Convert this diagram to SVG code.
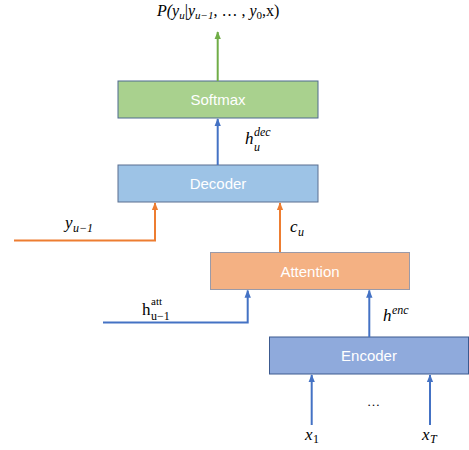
<svg xmlns="http://www.w3.org/2000/svg" width="469" height="450" viewBox="0 0 469 450">
<style>
.lbl{font-family:"Liberation Sans",Arial,sans-serif;font-size:15px;fill:#ffffff;text-anchor:middle}
.m{font-family:"Liberation Serif","Times New Roman",serif;font-size:17px;fill:#000000;font-style:italic}
.u{font-style:normal}
.s{font-size:12px}
.t{font-size:16px}
.ts{font-size:11px}
.xs{font-size:11px}
.d{font-size:13px}
.blue{stroke:#4472C4;stroke-width:2;fill:none}
.orange{stroke:#ED7D31;stroke-width:2;fill:none}
.green{stroke:#70AD47;stroke-width:2;fill:none}
</style>
<defs>
<marker id="ab" viewBox="0 0 10 10" refX="9" refY="5" markerWidth="4" markerHeight="4" orient="auto" markerUnits="strokeWidth"><path d="M0,1 L10,5 L0,9 z" fill="#4472C4"/></marker>
<marker id="ao" viewBox="0 0 10 10" refX="9" refY="5" markerWidth="4" markerHeight="4" orient="auto" markerUnits="strokeWidth"><path d="M0,1 L10,5 L0,9 z" fill="#ED7D31"/></marker>
<marker id="ag" viewBox="0 0 10 10" refX="9" refY="5" markerWidth="4" markerHeight="4" orient="auto" markerUnits="strokeWidth"><path d="M0,1 L10,5 L0,9 z" fill="#70AD47"/></marker>
</defs>
<rect width="469" height="450" fill="#ffffff"/>

<g id="softmax">
<rect x="118" y="81" width="200" height="37" fill="#A9D18E" stroke="#4F6A8F" stroke-width="1"/>
<text class="lbl" x="218" y="105">Softmax</text>
</g>
<g id="decoder">
<rect x="118" y="165" width="200" height="37" fill="#9DC3E6" stroke="#5A6F90" stroke-width="1"/>
<text class="lbl" x="218" y="189">Decoder</text>
</g>
<g id="attention">
<rect x="210.5" y="252.5" width="199" height="37" fill="#F4B183" stroke="#9A9AA8" stroke-width="1"/>
<text class="lbl" x="310" y="277">Attention</text>
</g>
<g id="encoder">
<rect x="269.5" y="337" width="199" height="37" fill="#8FAADC" stroke="#3C5A8F" stroke-width="1"/>
<text class="lbl" x="369" y="361">Encoder</text>
</g>

<g id="connectors">
<line class="green" x1="217.7" y1="81" x2="217.7" y2="32" marker-end="url(#ag)"/>
<line class="blue" x1="217.7" y1="165" x2="217.7" y2="119" marker-end="url(#ab)"/>
<polyline class="orange" points="14,240.5 155,240.5 155,203" marker-end="url(#ao)"/>
<line class="orange" x1="280" y1="252" x2="280" y2="203" marker-end="url(#ao)"/>
<polyline class="blue" points="103,322.5 247.7,322.5 247.7,290.5" marker-end="url(#ab)"/>
<line class="blue" x1="369.3" y1="337" x2="369.3" y2="290.5" marker-end="url(#ab)"/>
<line class="blue" x1="311.7" y1="425" x2="311.7" y2="375" marker-end="url(#ab)"/>
<line class="blue" x1="430" y1="425" x2="430" y2="375" marker-end="url(#ab)"/>
</g>

<g id="labels">
<text class="m t" x="157" y="16">P(y<tspan class="ts" dy="3">u</tspan><tspan class="u" dy="-3">|</tspan>y<tspan class="ts" dy="3">u−1</tspan><tspan class="u" dy="-3">, … , </tspan>y<tspan class="ts u" dy="3">0</tspan><tspan class="u" dy="-3">,x)</tspan></text>
<text class="m" x="245" y="144">h</text>
<text class="m s" x="254" y="136">dec</text>
<text class="m s" x="254" y="151">u</text>
<text class="m" x="65" y="228">y</text>
<text class="m s" x="73" y="232">u−1</text>
<text class="m" x="290" y="232">c</text>
<text class="m s" x="298" y="236">u</text>
<text class="m u" x="142" y="315">h</text>
<text class="m u xs" x="151" y="305">att</text>
<text class="m u s" x="151" y="320">u−1</text>
<text class="m" x="383" y="321">h</text>
<text class="m s" x="392" y="314">enc</text>
<text class="m u d" x="367" y="406">…</text>
<text class="m" x="305" y="440">x</text>
<text class="m u s" x="313" y="443">1</text>
<text class="m" x="422" y="440">x</text>
<text class="m s" x="430" y="443">T</text>
</g>
</svg>
